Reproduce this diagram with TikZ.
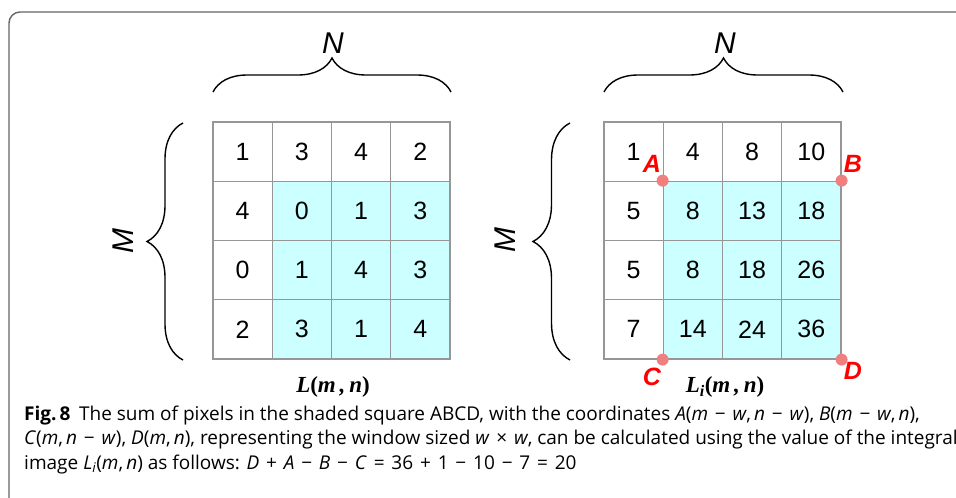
\documentclass[tikz,border=0pt]{standalone}
\usepackage{fontspec}
\setmainfont{Liberation Sans}
\newfontfamily\capfont{Open Sans}
\newfontfamily\serifbi{Liberation Serif}
\usetikzlibrary{decorations.pathreplacing}
\definecolor{shade}{RGB}{204,255,255}
\definecolor{gridgray}{RGB}{150,150,150}
\definecolor{dotred}{RGB}{240,128,128}
\definecolor{framegray}{RGB}{100,100,100}
\tikzset{
  cell/.style={draw=gridgray, line width=1.2pt, minimum size=59.25pt, inner sep=0pt,
    font=\fontsize{25}{25}\selectfont},
  shaded/.style={cell, fill=shade},
  bracestyle/.style={decorate, line width=1.4pt, decoration={brace, amplitude=#1}},
  dimlabel/.style={font=\itshape\fontsize{30}{30}\selectfont},
  cornerlabel/.style={text=red, font=\bfseries\itshape\fontsize{25}{25}\selectfont},
  cornerdot/.style={fill=dotred},
  matlabel/.style={font=\serifbi\bfseries\itshape\fontsize{23}{23}\selectfont},
}
\newcommand{\mop}[1]{\hspace{0.36em}#1\hspace{0.36em}}
\begin{document}
\begin{tikzpicture}[x=1pt,y=-1pt]
\useasboundingbox (0,0) rectangle (956,498);
% frame
\draw[framegray, line width=1.4pt, rounded corners=11pt] (9,500) -- (9,12) -- (960,12);

% left grid
\def\s{59.25}
\foreach \r/\vals in {1/{1,3,4,2},2/{4,0,1,3},3/{0,1,4,3},4/{2,3,1,4}}{
  \foreach \v [count=\c] in \vals {
    \ifnum\r>1 \ifnum\c>1 \def\st{shaded}\else\def\st{cell}\fi\else\def\st{cell}\fi
    \node[\st] (l-\r-\c) at ({213+(\c-0.5)*\s},{122+(\r-0.5)*\s}) {\v};
  }
}
% right grid
\foreach \r/\vals in {1/{1,4,8,10},2/{5,8,13,18},3/{5,8,18,26},4/{7,14,24,36}}{
  \foreach \v [count=\c] in \vals {
    \ifnum\r>1 \ifnum\c>1 \def\st{shaded}\else\def\st{cell}\fi\else\def\st{cell}\fi
    \node[\st] (r-\r-\c) at ({604+(\c-0.5)*\s},{122+(\r-0.5)*\s}) {\v};
  }
}

% braces
\draw[bracestyle=34pt] (213,92) -- (451,92);
\draw[bracestyle=34pt] (604,92) -- (843,92);
\draw[bracestyle=36pt] (183,360) -- (183,123);
\draw[bracestyle=37pt] (570,360) -- (570,123);
\node[dimlabel] (nl) at (333,43) {N};
\node[dimlabel] (nr) at (725,43) {N};
\node[dimlabel, rotate=90] (ml) at (123,241) {M};
\node[dimlabel, rotate=90] (mr) at (505,240) {M};

% corner dots and labels
\coordinate (A) at (r-2-2.north west);
\coordinate (B) at (r-2-4.north east);
\coordinate (C) at (r-4-2.south west);
\coordinate (D) at (r-4-4.south east);
\foreach \p in {A,B,C,D} \fill[cornerdot] (\p) circle (6pt);
\node[cornerlabel] (la) at (652,164) {A};
\node[cornerlabel] (lb) at (853,164) {B};
\node[cornerlabel] (lc) at (652,377) {C};
\node[cornerlabel] (ld) at (853,371) {D};

% matrix labels
\node[matlabel] (ll) at (333,387) {L\textup{(}m\,,\,n\textup{)}};
\node[matlabel] (lr) at (725,387) {L\textsubscript{i}\textup{(}m\,,\,n\textup{)}};

% caption
\node[anchor=base west, inner sep=0pt, align=left,
  font=\capfont\fontsize{19}{24.5}\selectfont] (cap) at (24,469)
{\textbf{Fig.\,8}\hspace{0.45em}The sum of pixels in the shaded square ABCD, with the coordinates \textit{A}(\textit{m}\mop{−}\textit{w},\,\textit{n}\mop{−}\textit{w}), \textit{B}(\textit{m}\mop{−}\textit{w},\,\textit{n}),\\
\textit{C}(\textit{m},\,\textit{n}\mop{−}\textit{w}), \textit{D}(\textit{m},\,\textit{n}), representing the window sized \textit{w}\mop{×}\textit{w}, can be calculated using the value of the integral\\
image \textit{L}\textsubscript{\textit{i}}(\textit{m},\,\textit{n}) as follows: \textit{D}\mop{+}\textit{A}\mop{−}\textit{B}\mop{−}\textit{C}\mop{=}36\mop{+}1\mop{−}10\mop{−}7\mop{=}20};
\end{tikzpicture}
\end{document}
